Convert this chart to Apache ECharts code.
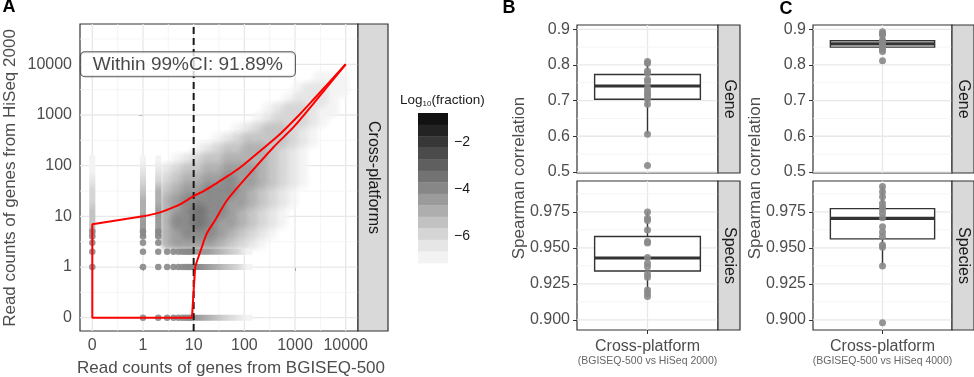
<!DOCTYPE html>
<html>
<head>
<meta charset="utf-8">
<title>Cross-platform read counts and Spearman correlation</title>
<script src="https://cdn.jsdelivr.net/npm/echarts@6.0.0/dist/echarts.min.js"></script>
<style>
  html, body { margin: 0; padding: 0; background: #fff; }
  #chart { width: 974px; height: 377px; }
</style>
</head>
<body>
<div id="chart"></div>
<script>
// ---------- panel A : read counts, 0 is drawn one decade below 1 ----------
var countTicks = [0, 1, 10, 100, 1000, 10000];
var thresholdCount = 10;

// red 99% CI boundary
var ciUpperX = [1, 2, 3, 5, 10, 15.8, 25.1, 39.8, 63.1, 100, 200, 501, 1259, 2291, 10000];
var ciUpperY = [10, 11.7, 13.5, 16.6, 25.1, 31.6, 41.7, 56.2, 75.9, 107, 191, 417, 1047, 1995, 10000];
var ciLowerX = [10000, 2291, 933, 380, 112, 46, 26.3, 18.2, 13.5, 11.5, 10.7];
var ciLowerY = [10000, 1660, 575, 234, 60, 21, 8.3, 4.6, 2.0, 1.26, 1];
var ciCornerX = [10.7, 9.25, 0, 0, 1];
var ciCornerY = [1, 0, 0, 7, 10];
var ciText = 'Within 99%CI: 91.89%';
var ciTextAt = [7.7, 10000];

// density shade (0 empty .. 8 dark) on 0.2-decade bins;
// first row is 10^3.8..10^4.0, first column is 10^0.4..10^0.6
var cloudRows = [
  '000000000000000000',
  '000000000000000111',
  '000000000000012211',
  '000000000000122210',
  '000000000012332110',
  '000000000123332100',
  '000000012344321000',
  '000001234444321000',
  '000123445543210000',
  '012344555543210000',
  '234455666543210000',
  '345566766543210000',
  '456677765432100000',
  '567777665432100000',
  '567877654321000000',
  '577876654321000000',
  '567776543210000000',
  '566665432100000000'
];
// low-count columns (x = 0,1,2) fading upwards from 10^0.6
var colStreakCounts = [0, 1, 2];
var colStreakLevels = ['54433211', '66554321', '66655321'];
// low-count rows (y = 0,1,2) fading to the right from 10^0.96
var rowStreakCounts = [0, 1, 2];
var rowStreakLevels = ['654321', '765431', '665431'];
// single integer points
var dotCols = [0, 1, 2];
var dotColY = [[1, 2, 3, 4, 5], [0, 1, 2, 3, 4, 5], [0, 1, 2, 3, 4, 5]];
var dotRows = [0, 1, 2];
var dotRowX = [3, 4, 5, 6, 7, 8, 9];

// colour bar
var legendEdges = [-0.77, -1.26, -1.75, -2.23, -2.72, -3.21, -3.70, -4.19, -4.67, -5.16, -5.65, -6.14, -6.63, -7.12];
var legendShades = ['#111111', '#232323', '#373737', '#4b4b4b', '#5f5f5f', '#737373', '#878787', '#9b9b9b',
                    '#aeaeae', '#c2c2c2', '#d5d5d5', '#e6e6e6', '#f3f3f3'];
var legendTicks = [-2, -4, -6];

// ---------- panels B and C : Spearman correlation ----------
var geneTicks = [0.5, 0.6, 0.7, 0.8, 0.9];
var speciesTicks = [0.9, 0.925, 0.95, 0.975];
var category = 'Cross-platform';

// box stats: [lower whisker, Q1, median, Q3, upper whisker]
var bGeneBox = [0.606, 0.704, 0.741, 0.773, 0.810];
var bGenePts = [0.810, 0.805, 0.783, 0.777, 0.759, 0.752, 0.736, 0.727, 0.719, 0.713, 0.704, 0.690, 0.606, 0.518];
var bSpeciesBox = [0.916, 0.934, 0.943, 0.958, 0.975];
var bSpeciesPts = [0.975, 0.9706, 0.969, 0.9625, 0.9544, 0.9535, 0.9433, 0.9394, 0.937, 0.9319, 0.9296, 0.9208, 0.9185, 0.9162];
var cGeneBox = [0.838, 0.850, 0.859, 0.868, 0.893];
var cGenePts = [0.893, 0.888, 0.884, 0.870, 0.865, 0.861, 0.856, 0.852, 0.847, 0.843, 0.838, 0.812];
var cSpeciesBox = [0.9375, 0.9563, 0.9706, 0.9773, 0.9926];
var cSpeciesPts = [0.9926, 0.989, 0.9855, 0.981, 0.9785, 0.9765, 0.974, 0.971, 0.9648, 0.961, 0.958, 0.952, 0.9505, 0.9375, 0.898];

// ---------------------------------------------------------------------
var FONT = '"Liberation Sans", Arial, sans-serif';
var INK = '#1a1a1a', AXIS_TEXT = '#4d4d4d', FRAME = '#333333';
var shade = ['#ffffff', '#f3f3f3', '#e5e5e5', '#d5d5d5', '#c3c3c3', '#afafaf', '#9b9b9b', '#878787', '#737373', '#606060'];

function tr(c) { return c <= 0 ? -1 : Math.log10(c); }
function rgba(hex, a) {
  var n = parseInt(hex.slice(1), 16);
  return 'rgba(' + (n >> 16) + ',' + ((n >> 8) & 255) + ',' + (n & 255) + ',' + a + ')';
}

var A_X = [-1.243, 4.243], A_Y = [-1.262, 4.795];
var GENE_LIM = [0.497, 0.912], SPECIES_LIM = [0.893, 0.9965];
var STEP = 0.2, HALF = 0.06;

// [xLo, yLo, xHi, yHi, level or streak index, kind]  kind: 1 bin, 2 column streak, 3 row streak
var cells = [];
cloudRows.forEach(function (row, i) {
  var yHi = 4.0 - STEP * i;
  for (var j = 0; j < row.length; j++) {
    var lv = +row[j];
    if (lv) cells.push([0.4 + STEP * j, yHi - STEP, 0.4 + STEP * (j + 1), yHi, lv, 1]);
  }
});
// light bins first so the soft edges of darker bins blend over them
cells.sort(function (a, b) { return a[4] - b[4]; });
colStreakCounts.forEach(function (c, k) {
  var n = colStreakLevels[k].length;
  cells.push([tr(c) - HALF, 0.6, tr(c) + HALF, 0.6 + STEP * n, k, 2]);
});
rowStreakCounts.forEach(function (r, k) {
  var n = rowStreakLevels[k].length;
  cells.push([0.96, tr(r) - HALF, 0.96 + STEP * n, tr(r) + HALF, k, 3]);
});

var dots = [];
dotCols.forEach(function (c, k) { dotColY[k].forEach(function (y) { dots.push([tr(c), tr(y)]); }); });
dotRows.forEach(function (r) { dotRowX.forEach(function (x) { dots.push([tr(x), tr(r)]); }); });

function pairs(xs, ys) { return xs.map(function (x, i) { return [tr(x), tr(ys[i])]; }); }

function midpoints(ticks, lim) {
  var out = [];
  for (var i = 0; i < ticks.length - 1; i++) out.push((ticks[i] + ticks[i + 1]) / 2);
  var d = ticks[1] - ticks[0];
  if (ticks[ticks.length - 1] + d / 2 < lim[1]) out.push(ticks[ticks.length - 1] + d / 2);
  if (ticks[0] - d / 2 > lim[0]) out.unshift(ticks[0] - d / 2);
  return out;
}
function gridData(xMaj, xMin, yMaj, yMin) {
  var d = [];
  xMaj.forEach(function (v) { d.push([v, 0]); });
  xMin.forEach(function (v) { d.push([v, 1]); });
  yMaj.forEach(function (v) { d.push([v, 2]); });
  yMin.forEach(function (v) { d.push([v, 3]); });
  return d;
}
function renderGridLine(params, api) {
  var cs = params.coordSys, v = api.value(0), kind = api.value(1);
  var style = { stroke: kind % 2 ? '#f3f3f3' : '#e8e8e8', lineWidth: kind % 2 ? 0.8 : 1.3 };
  if (kind < 2) {
    var x = api.coord([v, 0])[0];
    return { type: 'line', shape: { x1: x, y1: cs.y, x2: x, y2: cs.y + cs.height }, style: style };
  }
  var y = api.coord([0, v])[1];
  return { type: 'line', shape: { x1: cs.x, y1: y, x2: cs.x + cs.width, y2: y }, style: style };
}
function streakStops(levels) {
  var n = levels.length;
  return levels.split('').map(function (c, j) {
    return { offset: (j + 0.5) / n, color: shade[+c] };
  });
}
function renderCell(params, api) {
  var a = api.coord([api.value(0), api.value(3)]);
  var b = api.coord([api.value(2), api.value(1)]);
  var kind = api.value(5), k = api.value(4);
  var rect = { x: a[0], y: a[1], width: b[0] - a[0], height: b[1] - a[1] };
  if (kind === 2) {
    return { type: 'rect', shape: rect, style: {
      fill: new echarts.graphic.LinearGradient(0, 1, 0, 0, streakStops(colStreakLevels[k])) } };
  }
  if (kind === 3) {
    return { type: 'rect', shape: rect, style: {
      fill: new echarts.graphic.LinearGradient(0, 0, 1, 0, streakStops(rowStreakLevels[k])) } };
  }
  // soft bin: radial fade so neighbouring bins blend into a smooth density
  var col = shade[k];
  var cx = (a[0] + b[0]) / 2, cy = (a[1] + b[1]) / 2;
  var w = rect.width * 2.3, h = rect.height * 2.3;
  var fill = new echarts.graphic.RadialGradient(0.5, 0.5, 0.5, [
    { offset: 0, color: rgba(col, 1) },
    { offset: 0.4, color: rgba(col, 0.85) },
    { offset: 1, color: rgba(col, 0) }
  ]);
  return { type: 'rect', shape: { x: cx - w / 2, y: cy - h / 2, width: w, height: h }, style: { fill: fill } };
}
function renderLegend(params, api) {
  var a = api.coord([0, api.value(1)]);
  var b = api.coord([1, api.value(0)]);
  return { type: 'rect', shape: { x: a[0], y: a[1], width: b[0] - a[0], height: b[1] - a[1] + 0.4 },
           style: { fill: legendShades[api.value(2)] } };
}
function renderBox(params, api) {
  var x = api.value(0), w = 0.45;
  var pMin = api.coord([x, api.value(1)]), pQ1 = api.coord([x, api.value(2)]);
  var pMed = api.coord([x, api.value(3)]), pQ3 = api.coord([x, api.value(4)]);
  var pMax = api.coord([x, api.value(5)]);
  var l = api.coord([x - w, 0])[0], r = api.coord([x + w, 0])[0];
  var st = { stroke: FRAME, lineWidth: 1.4, fill: null };
  return { type: 'group', children: [
    { type: 'line', shape: { x1: pMin[0], y1: pMin[1], x2: pQ1[0], y2: pQ1[1] }, style: st },
    { type: 'line', shape: { x1: pQ3[0], y1: pQ3[1], x2: pMax[0], y2: pMax[1] }, style: st },
    { type: 'rect', shape: { x: l, y: pQ3[1], width: r - l, height: pQ1[1] - pQ3[1] },
      style: { fill: '#fff', stroke: FRAME, lineWidth: 1.4 } },
    { type: 'line', shape: { x1: l, y1: pMed[1], x2: r, y2: pMed[1] }, style: { stroke: FRAME, lineWidth: 3.2 } }
  ] };
}

var tickLabel = { fontSize: 16, color: AXIS_TEXT, fontFamily: FONT };
var tickLine = { show: true, length: 4, lineStyle: { color: FRAME, width: 1 } };

var grids = [
  { left: 80, top: 24, width: 278, height: 307 },
  { left: 418, top: 113, width: 30, height: 150 },
  { left: 577, top: 25, width: 141, height: 148 },
  { left: 577, top: 181, width: 141, height: 149 },
  { left: 813, top: 25, width: 139, height: 148 },
  { left: 813, top: 181, width: 139, height: 149 }
].map(function (g, i) {
  g.outerBoundsMode = 'none';
  g.containLabel = false;
  if (i !== 1) { g.show = true; g.borderColor = FRAME; g.borderWidth = 1.2; g.backgroundColor = '#fff'; }
  return g;
});

var xAxes = [], yAxes = [], series = [];

// ---- panel A ----
function countLabel(v) { return v < -0.5 ? '0' : String(Math.round(Math.pow(10, v))); }
xAxes.push({
  type: 'value', gridIndex: 0, min: A_X[0], max: A_X[1],
  axisLine: { show: false }, splitLine: { show: false },
  axisTick: Object.assign({ customValues: countTicks.map(tr) }, tickLine),
  axisLabel: Object.assign({ customValues: countTicks.map(tr), margin: 7, formatter: countLabel }, tickLabel)
});
yAxes.push({
  type: 'value', gridIndex: 0, min: A_Y[0], max: A_Y[1],
  axisLine: { show: false }, splitLine: { show: false },
  axisTick: Object.assign({ customValues: countTicks.map(tr) }, tickLine),
  axisLabel: Object.assign({ customValues: countTicks.map(tr), margin: 8, formatter: countLabel }, tickLabel)
});
var aMaj = countTicks.map(tr);
series.push({
  type: 'custom', xAxisIndex: 0, yAxisIndex: 0, z: 1, silent: true,
  renderItem: renderGridLine, data: gridData(aMaj, midpoints(aMaj, A_X), aMaj, midpoints(aMaj, A_Y))
});
series.push({
  type: 'custom', xAxisIndex: 0, yAxisIndex: 0, z: 2, silent: true, clip: true,
  encode: { x: [0, 2], y: [1, 3] }, renderItem: renderCell, data: cells
});
series.push({
  type: 'scatter', xAxisIndex: 0, yAxisIndex: 0, z: 3, silent: true,
  symbolSize: 6.5, itemStyle: { color: '#888888', opacity: 0.9 }, data: dots
});
series.push({
  type: 'line', xAxisIndex: 0, yAxisIndex: 0, z: 4, silent: true, symbol: 'none',
  lineStyle: { color: INK, width: 2, type: [7, 4] },
  data: [[tr(thresholdCount), A_Y[0]], [tr(thresholdCount), A_Y[1]]]
});
var redLine = { color: '#ff0000', width: 2 };
series.push({ type: 'line', xAxisIndex: 0, yAxisIndex: 0, z: 5, silent: true, symbol: 'none',
  smooth: 0.3, lineStyle: redLine, data: pairs(ciUpperX, ciUpperY) });
series.push({ type: 'line', xAxisIndex: 0, yAxisIndex: 0, z: 5, silent: true, symbol: 'none',
  smooth: 0.3, lineStyle: redLine, data: pairs(ciLowerX, ciLowerY) });
series.push({ type: 'line', xAxisIndex: 0, yAxisIndex: 0, z: 5, silent: true, symbol: 'none',
  lineStyle: redLine, data: pairs(ciCornerX, ciCornerY) });
series.push({
  type: 'scatter', xAxisIndex: 0, yAxisIndex: 0, z: 6, silent: true,
  symbolSize: 1, itemStyle: { color: 'rgba(0,0,0,0)' },
  label: { show: true, position: 'inside', formatter: ciText, fontSize: 19, fontFamily: FONT, color: INK,
           backgroundColor: '#fff', borderColor: FRAME, borderWidth: 1, borderRadius: 4, padding: [3, 12, 2, 12] },
  data: [[tr(ciTextAt[0]), tr(ciTextAt[1])]]
});

// ---- colour bar ----
xAxes.push({ type: 'value', gridIndex: 1, min: 0, max: 1, show: false });
yAxes.push({
  type: 'value', gridIndex: 1, position: 'left', min: legendEdges[legendEdges.length - 1], max: legendEdges[0],
  axisLine: { show: false }, splitLine: { show: false }, axisLabel: { show: false },
  axisTick: { show: true, inside: true, length: 6, customValues: legendTicks, lineStyle: { color: '#fff', width: 1 } }
});
var legendData = [];
legendShades.forEach(function (c, i) { legendData.push([legendEdges[i + 1], legendEdges[i], i]); });
series.push({
  type: 'custom', xAxisIndex: 1, yAxisIndex: 1, z: 2, silent: true,
  encode: { x: -1, y: [0, 1] }, renderItem: renderLegend, data: legendData
});

// ---- panels B and C ----
var panels = [
  { grid: 2, lim: GENE_LIM, ticks: geneTicks, dp: 1, box: bGeneBox, pts: bGenePts, bottom: false },
  { grid: 3, lim: SPECIES_LIM, ticks: speciesTicks, dp: 3, box: bSpeciesBox, pts: bSpeciesPts, bottom: true,
    sub: '(BGISEQ-500 vs HiSeq 2000)' },
  { grid: 4, lim: GENE_LIM, ticks: geneTicks, dp: 1, box: cGeneBox, pts: cGenePts, bottom: false },
  { grid: 5, lim: SPECIES_LIM, ticks: speciesTicks, dp: 3, box: cSpeciesBox, pts: cSpeciesPts, bottom: true,
    sub: '(BGISEQ-500 vs HiSeq 4000)' }
];
panels.forEach(function (p) {
  var xi = xAxes.length, yi = yAxes.length;
  xAxes.push({
    type: 'value', gridIndex: p.grid, min: 0.4, max: 1.6,
    axisLine: { show: false }, splitLine: { show: false },
    axisTick: Object.assign({ customValues: [1] }, tickLine, { show: p.bottom }),
    axisLabel: Object.assign({ show: p.bottom, customValues: [1], margin: 9,
      formatter: function () { return category; } }, tickLabel),
    name: p.bottom ? p.sub : '', nameLocation: 'middle', nameGap: 26,
    nameTextStyle: { fontSize: 10.5, color: '#666666', fontFamily: FONT }
  });
  yAxes.push({
    type: 'value', gridIndex: p.grid, min: p.lim[0], max: p.lim[1],
    axisLine: { show: false }, splitLine: { show: false },
    axisTick: Object.assign({ customValues: p.ticks }, tickLine),
    axisLabel: Object.assign({ customValues: p.ticks, margin: 7,
      formatter: function (v) { return v.toFixed(p.dp); } }, tickLabel)
  });
  series.push({
    type: 'custom', xAxisIndex: xi, yAxisIndex: yi, z: 1, silent: true,
    renderItem: renderGridLine, data: gridData([1], [], p.ticks, midpoints(p.ticks, p.lim))
  });
  series.push({
    type: 'custom', xAxisIndex: xi, yAxisIndex: yi, z: 3, silent: true,
    encode: { x: 0, y: [1, 2, 3, 4, 5] }, renderItem: renderBox, data: [[1].concat(p.box)]
  });
  series.push({
    type: 'scatter', xAxisIndex: xi, yAxisIndex: yi, z: 4, silent: true,
    symbolSize: 7, itemStyle: { color: '#888888', opacity: 0.9 },
    data: p.pts.map(function (v) { return [1, v]; })
  });
});
// colour-bar labels on the right edge
yAxes.push({
  type: 'value', gridIndex: 1, position: 'right', min: legendEdges[legendEdges.length - 1], max: legendEdges[0],
  axisLine: { show: false }, splitLine: { show: false },
  axisTick: { show: true, inside: true, length: 6, customValues: legendTicks, lineStyle: { color: '#fff', width: 1 } },
  axisLabel: { customValues: legendTicks, margin: 6, fontSize: 14, color: INK, fontFamily: FONT,
    formatter: function (v) { return '\u2212' + Math.abs(v); } }
});

// ---- strips, titles, panel letters ----
function txt(x, y, text, size, color, rot, weight, align) {
  return { type: 'text', x: x, y: y, rotation: rot || 0, silent: true, z: 20,
    style: { text: text, fill: color, font: (weight || 'normal') + ' ' + size + 'px ' + FONT,
             align: align || 'center', verticalAlign: 'middle',
             textAlign: align || 'center', textVerticalAlign: 'middle' } };
}
function strip(x, y, w, h, text) {
  return [
    { type: 'rect', z: 19, silent: true, shape: { x: x, y: y, width: w, height: h },
      style: { fill: '#d9d9d9', stroke: FRAME, lineWidth: 1.2 } },
    txt(x + w / 2, y + h / 2, text, 16, INK, -Math.PI / 2)
  ];
}
var graphics = [].concat(
  strip(358, 24, 30, 307, 'Cross-platforms'),
  strip(718, 25, 22, 148, 'Gene'), strip(718, 181, 22, 149, 'Species'),
  strip(952, 25, 22, 148, 'Gene'), strip(952, 181, 22, 149, 'Species'),
  [
    txt(9, 7, 'A', 18, '#000', 0, 'bold'),
    txt(509, 8, 'B', 18, '#000', 0, 'bold'),
    txt(786, 9, 'C', 18, '#000', 0, 'bold'),
    txt(10, 178, 'Read counts of genes from HiSeq 2000', 17, AXIS_TEXT, Math.PI / 2),
    txt(231, 368, 'Read counts of genes from BGISEQ-500', 17, AXIS_TEXT, 0),
    txt(519, 178, 'Spearman correlation', 17, AXIS_TEXT, Math.PI / 2),
    txt(755, 178, 'Spearman correlation', 17, AXIS_TEXT, Math.PI / 2),
    { type: 'text', x: 400, y: 100, silent: true, z: 20,
      style: { text: '{a|Log}{s|10}{a|(fraction)}', align: 'left', verticalAlign: 'middle',
               textAlign: 'left', textVerticalAlign: 'middle',
               rich: { a: { fontSize: 13.5, fontFamily: FONT, fill: INK, color: INK, lineHeight: 16, verticalAlign: 'middle' },
                       s: { fontSize: 8, fontFamily: FONT, fill: INK, color: INK, lineHeight: 8, verticalAlign: 'bottom' } } } }
  ]
);

var chart = echarts.init(document.getElementById('chart'));
chart.setOption({
  animation: false,
  backgroundColor: '#ffffff',
  grid: grids,
  xAxis: xAxes,
  yAxis: yAxes,
  series: series,
  graphic: graphics
});
</script>
</body>
</html>
